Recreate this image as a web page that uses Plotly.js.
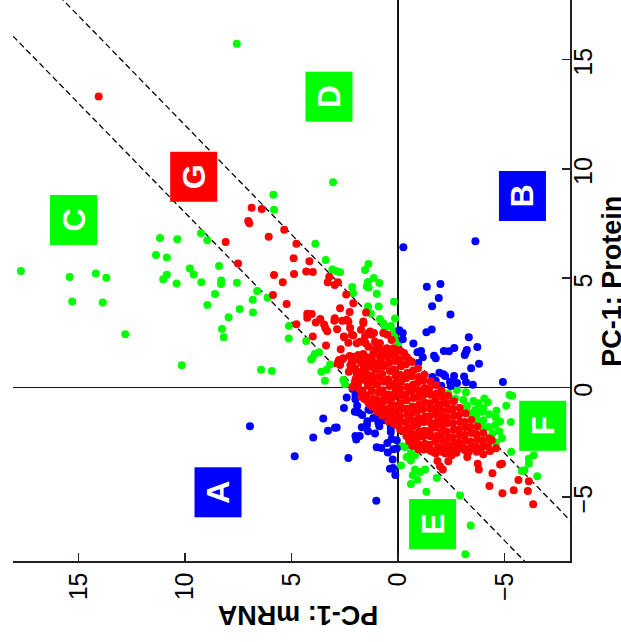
<!DOCTYPE html>
<html><head><meta charset="utf-8">
<script src="https://cdn.plot.ly/plotly-3.0.1.min.js"></script>
<style>html,body{margin:0;padding:0;background:#fff;overflow:hidden}</style>
</head><body><div id="chart" style="width:621px;height:642px"></div>
<script>
const tickValues=[-5,0,5,10,15];
const xTitle="PC-1: mRNA", yTitle="PC-1: Protein";
const mrnaRange=[18.07,-8.07], proteinRange=[-7.93,17.72];
const bandOffset=2;
const bandMrna=[18.07,-8.07];
const bandUpper=bandMrna.map(m=>m+bandOffset);
const bandLower=bandMrna.map(m=>m-bandOffset);
const regionLabels=["A","B","C","D","E","F","G"];
const regionColors=["#0000ff","#0000ff","#00ff00","#00ff00","#00ff00","#00ff00","#ff0000"];
const regionMrna=[8.43,-5.84,15.23,3.26,-1.62,-6.78,9.60];
const regionProtein=[-4.77,8.78,7.64,13.28,-6.26,-1.77,9.66];

const greenPoints=[[17.70,5.33],[15.41,5.06],[14.18,5.21],[13.69,5.02],[15.29,3.94],[13.86,3.89],[12.80,2.44],[10.15,1.02],[11.17,6.84],[10.36,6.78],[9.25,7.06],[8.95,6.73],[11.36,6.06],[10.85,5.95],[9.77,5.44],[9.59,5.17],[10.85,5.16],[11.02,4.95],[10.39,4.76],[9.23,4.81],[8.30,4.89],[8.31,4.73],[7.56,4.79],[8.40,5.56],[8.59,4.28],[8.95,3.78],[7.43,3.59],[7.95,3.22],[8.26,2.68],[8.18,2.30],
[6.82,4.01],[6.81,3.43],[6.61,4.41],[6.12,4.11],[5.12,2.81],[5.13,2.24],[4.31,2.13],[3.71,1.61],[3.91,1.54],[4.02,1.34],[4.08,1.28],[6.43,0.82],[5.92,0.76],[3.19,1.06],[3.35,0.82],[3.60,0.72],[3.43,0.31],[2.57,0.34],[2.49,0.15],
[7.57,15.72],[3.05,9.39],[5.85,8.82],[5.82,8.13],[3.88,6.57],[3.39,5.83],[3.08,5.40],[2.91,5.33],[2.72,5.27],[2.15,4.60],[2.11,4.32],[1.39,5.65],[1.55,5.38],[1.14,5.01],[0.88,4.78],[1.41,4.83],[1.47,4.62],[1.38,4.58],[1.00,4.29],[0.19,3.92],[0.91,3.71],[1.41,3.71],[1.28,3.39],[0.85,3.13],[0.14,3.16],[0.69,2.94],[0.61,2.74],[0.34,2.82],[0.19,2.59],[0.17,2.33],[-0.01,2.05],
[-2.36,-0.27],[-2.76,-0.11],[-3.19,-0.21],[-2.68,-0.50],[-3.07,-0.57],[-3.54,-0.61],[-3.77,-0.72],[-4.05,-0.50],[-4.21,-0.67],[-5.23,-0.34],[-5.35,-0.38],[-5.08,-0.83],[-4.00,-0.95],[-3.93,-1.11],[-4.62,-1.06],[-4.27,-1.22],[-3.23,-0.83],[-3.62,-1.03],[-3.38,-1.18],[-3.66,-1.29],[-4.00,-1.49],[-4.59,-1.37],[-4.79,-1.55],[-5.29,-1.58],[-4.24,-1.80],[-4.55,-1.72],[-3.77,-1.57],[-3.93,-1.80],[-4.76,-2.01],[-4.43,-2.10],[-4.88,-2.32],[-4.59,-2.51],[-5.31,-2.94],[-6.37,-3.10],[-6.14,-3.25],[-6.14,-3.48],[-5.93,-3.78],[-5.81,-3.82],[-6.53,-4.05],[-2.91,-4.93],
[-0.17,-2.68],[-0.33,-2.72],[-0.14,-3.56],[-0.41,-3.17],[-0.60,-3.02],[-0.80,-3.10],[-0.60,-3.33],[-0.80,-3.75],[-1.03,-3.86],[-0.69,-4.01],[-0.91,-4.21],[-1.27,-3.75],[-0.60,-4.41],[-1.82,-4.14],[-1.33,-4.76],[-3.41,-6.31],[-3.16,-7.62]];

const bluePoints=[[-1.35,4.61],[-1.99,4.73],[-1.91,4.09],[-1.60,3.72],[-2.46,3.34],[-1.58,2.65],[-1.33,2.53],[-3.32,2.30],[-3.72,1.86],[-3.23,1.72],[-3.18,1.60],[-3.13,1.49],[-2.64,1.81],[-2.39,1.66],[-2.15,1.67],[-1.69,1.46],[-1.77,1.34],[-1.16,1.39],[-1.08,1.67],[-0.91,1.61],[-0.95,1.12],[-0.72,2.01],[-0.22,2.21],[-0.22,2.50],[-0.06,2.62],[-3.80,1.09],[-3.43,0.88],[-3.10,0.51],[-2.63,0.53],[-2.13,0.61],[-1.94,0.68],[-2.21,0.53],[-1.61,0.48],[-1.77,0.31],[-2.44,0.27],[-2.77,0.21],[-3.19,0.24],[-3.51,0.13],[-2.47,0.07],[-2.03,0.08],[-0.25,6.41],[-3.63,6.69],[-4.92,0.25],
[2.13,-0.07],[2.00,-0.34],[2.00,-0.53],[2.41,-0.45],[2.54,-0.94],[1.92,-0.83],[2.03,-1.11],[1.85,-1.14],[1.68,-1.25],[1.39,-1.00],[1.31,-1.03],[1.00,-1.29],[1.16,-1.39],[1.44,-1.54],[1.46,-1.71],[1.70,-1.81],[0.92,-1.61],[0.88,-1.77],[0.64,-1.49],[0.38,-1.61],[0.34,-1.84],[0.34,-2.03],[1.41,-2.00],[1.08,-2.10],[3.51,-1.41],[3.29,-1.98],[2.96,-1.84],[2.88,-1.83],[3.98,-2.28],[4.85,-3.14],[2.33,-3.22],[2.00,-2.21],[1.80,-2.22],[1.96,-2.38],[1.00,-2.73],[0.78,-2.76],[0.50,-2.53],[0.30,-2.35],[0.06,-2.41],[0.48,-2.97],[0.22,-2.82],[0.06,-2.79],[0.25,-3.29],[0.38,-3.71],[0.23,-3.68],[0.13,-4.00],[1.02,-5.17],[6.95,-1.77]];

const redPoints=[[14.05,13.31],[6.87,8.22],[6.40,8.16],[7.03,7.61],[6.98,7.51],[5.34,7.22],[6.07,6.89],[4.77,6.57],[8.09,6.66],[4.90,5.91],[4.16,5.77],[7.51,5.67],[4.31,5.31],[4.00,5.28],[4.88,5.19],[5.82,5.15],[5.41,4.81],[3.23,5.07],[3.30,4.81],[2.82,4.81],[2.97,4.69],[2.43,4.26],[5.87,4.23],[5.23,3.82],[4.77,2.90],[4.00,2.33],[3.38,1.92],
[4.26,3.37],[4.05,3.36],[4.26,3.19],[3.65,3.13],[3.86,2.97],[3.47,2.88],[3.41,2.72],[3.32,2.58],[2.97,3.17],[2.99,3.05],[2.86,2.67],[2.62,3.06],[2.72,3.63],[2.27,3.45],[2.10,3.86],[2.33,3.02],[1.63,2.94],[1.74,2.64],[2.25,2.72],[2.17,2.41],[2.52,2.30],[2.33,2.05],[1.94,2.03],[1.78,2.10],[1.52,2.03],[1.39,2.49],[1.50,3.43],[2.69,1.75],[2.27,1.44],[1.63,1.54],[1.94,1.37],[2.57,1.34],[2.77,1.26],[2.83,1.11],[2.10,1.22],[1.82,1.26],[1.47,1.39],[2.02,0.83],[1.94,0.65],[1.99,0.39],[1.60,0.95],[1.70,0.72],[1.52,0.34],[1.39,0.19],[1.66,-0.19],
[2.80,1.18],[2.60,1.29],[2.72,1.03],[2.54,2.33],[2.41,3.10],[2.10,2.38],[1.63,3.02],[1.55,2.33],[1.31,2.56],[1.13,2.49],[1.23,2.41],[0.69,2.49],[0.50,2.41],[0.30,2.18],[0.53,1.80],[0.22,1.80],[0.85,2.03],[1.08,2.10],[0.85,1.72],[1.16,1.57],[1.39,1.87],[2.17,1.18],[2.10,1.41],[1.86,1.49],[2.02,0.88],[1.94,0.72],[1.82,0.53],[1.78,0.42],[2.02,0.27],[1.55,0.34],[1.39,0.42],[1.63,0.80],[1.31,0.95],[1.00,1.11],[0.77,1.18],[1.23,1.34],[0.85,1.41],[0.46,1.41],[0.14,1.49],
[1.05,1.78],[0.62,1.62],[0.38,1.66],[0.05,1.72],[-0.28,1.58],[1.72,1.12],[1.38,1.12],[1.08,0.82],[2.24,1.02],[2.31,0.72],[1.87,0.18],[2.14,0.02],[1.82,-0.08],[1.58,-0.52],[1.72,-0.42],[1.33,-0.78],[1.02,-0.95],[0.62,-1.18],[0.28,-1.34],[-0.02,-1.75],[-0.28,-1.98],[-0.52,-2.44],[-1.08,-2.72],[-1.63,-2.94],[-2.22,-3.02],[-2.74,-2.98],[-3.32,-2.93],[-3.82,-2.88],
[-2.36,-3.37],[-2.10,-3.75],[-2.52,-3.10],[-3.25,-3.17],[-3.74,-3.48],[-3.79,-3.75],[-4.79,-3.52],[-4.88,-3.48],[-4.43,-3.92],[-4.29,-4.50],[-5.65,-4.23],[-6.14,-4.28],[-5.43,-4.69],[-4.90,-4.83],[-6.09,-4.73],[-6.34,-5.33],[-4.60,-2.78],[-4.40,-2.41],[-1.85,-3.36],[-1.97,-3.60],[-3.69,-2.94],[-4.00,-3.05],[-4.32,-2.90],[-3.54,-2.72],[-3.15,-2.87],[-2.91,-2.72],[-2.60,-2.64],
[1.47,0.62],[1.42,0.08],[1.48,-0.36],[1.40,-0.68],[1.18,1.02],[1.23,0.53],[1.15,0.22],[1.24,-0.17],[1.16,-0.52],[1.20,-0.88],[0.97,0.87],[0.91,0.48],[0.99,0.13],[0.93,-0.22],[0.98,-0.57],[0.90,-0.83],[0.96,-1.12],[0.72,1.46],[0.66,0.97],[0.74,0.62],[0.68,0.28],[0.73,-0.12],[0.65,-0.42],[0.71,-0.68],[0.67,-1.03],[0.74,-1.28],[0.42,1.12],[0.38,0.76],[0.46,0.38],[0.40,0.07],[0.44,-0.32],[0.37,-0.63],[0.45,-0.97],[0.41,-1.28],[0.46,-1.53],[0.13,1.22],[0.18,0.83],[0.11,0.52],[0.16,0.18],[0.12,-0.17],[0.19,-0.43],[0.14,-0.82],[0.17,-1.08],[0.11,-1.42],[0.18,-1.68],
[-0.12,1.67],[-0.08,1.28],[-0.15,0.97],[-0.10,0.58],[-0.14,0.27],[-0.09,-0.07],[-0.13,-0.38],[-0.11,-0.72],[-0.16,-0.98],[-0.09,-1.32],[-0.14,-1.58],[-0.10,-1.92],[-0.42,1.38],[-0.37,1.07],[-0.44,0.68],[-0.39,0.42],[-0.43,0.03],[-0.36,-0.32],[-0.41,-0.58],[-0.38,-0.97],[-0.44,-1.23],[-0.37,-1.57],[-0.42,-1.88],[-0.39,-2.22],[-0.66,1.17],[-0.71,0.78],[-0.65,0.52],[-0.70,0.13],[-0.64,-0.17],[-0.72,-0.48],[-0.67,-0.87],[-0.71,-1.13],[-0.64,-1.47],[-0.69,-1.78],[-0.66,-2.12],[-0.72,-2.38],[-0.67,-2.67],
[-0.93,0.87],[-0.98,0.48],[-0.92,0.22],[-0.97,-0.12],[-0.94,-0.43],[-0.99,-0.77],[-0.91,-1.08],[-0.96,-1.42],[-0.93,-1.68],[-0.98,-2.02],[-0.92,-2.28],[-0.97,-2.62],[-0.95,-2.82],[-1.24,0.58],[-1.19,0.32],[-1.25,-0.02],[-1.20,-0.33],[-1.23,-0.67],[-1.18,-0.98],[-1.26,-1.32],[-1.21,-1.58],[-1.24,-1.97],[-1.19,-2.23],[-1.25,-2.57],[-1.20,-2.83],
[-1.52,0.28],[-1.46,-0.07],[-1.53,-0.33],[-1.48,-0.72],[-1.51,-0.98],[-1.47,-1.32],[-1.54,-1.63],[-1.49,-1.97],[-1.52,-2.23],[-1.46,-2.62],[-1.50,-2.88],[-1.76,0.12],[-1.81,-0.27],[-1.75,-0.58],[-1.80,-0.92],[-1.77,-1.23],[-1.82,-1.57],[-1.76,-1.83],[-1.79,-2.22],[-1.74,-2.48],[-1.81,-2.82],[-1.77,-3.02],
[-2.03,-0.12],[-2.08,-0.43],[-2.02,-0.77],[-2.07,-1.08],[-2.04,-1.42],[-2.09,-1.73],[-2.03,-2.07],[-2.06,-2.38],[-2.02,-2.72],[-2.07,-2.93],[-2.34,-0.38],[-2.29,-0.72],[-2.35,-1.03],[-2.30,-1.37],[-2.33,-1.63],[-2.28,-2.02],[-2.36,-2.28],[-2.31,-2.62],[-2.34,-2.88],
[-2.62,-0.63],[-2.57,-0.97],[-2.63,-1.28],[-2.58,-1.62],[-2.61,-1.93],[-2.56,-2.27],[-2.64,-2.53],[-2.59,-2.87],[-2.90,-0.93],[-2.85,-1.27],[-2.91,-1.58],[-2.86,-1.92],[-2.89,-2.18],[-2.84,-2.52],[-2.92,-2.78],[-3.17,-1.18],[-3.12,-1.57],[-3.18,-1.83],[-3.13,-2.17],[-3.16,-2.43],[-3.11,-2.77],[-3.44,-1.48],[-3.39,-1.82],[-3.45,-2.08],[-3.40,-2.47],[-3.43,-2.73],[-3.72,-1.78],[-3.67,-2.12],[-3.73,-2.38],[-3.68,-2.72],[-4.00,-2.08],[-3.95,-2.42],[-4.01,-2.68],[-4.27,-2.33],[-4.22,-2.67]];

function trace(points,color){return{type:"scatter",mode:"markers",x:points.map(p=>p[0]),y:points.map(p=>p[1]),marker:{color:color,size:8,line:{width:0}},hoverinfo:"skip"};}
function band(y){return{type:"scatter",mode:"lines",x:bandMrna,y:y,line:{color:"#000",width:1.3,dash:"6px,3.5px"},hoverinfo:"skip"};}

const axisBase={tickmode:"array",tickvals:tickValues,ticks:"inside",ticklen:8,tickwidth:1.5,tickcolor:"#222",showline:true,linecolor:"#222",linewidth:1.5,showgrid:false,zeroline:true,zerolinecolor:"#111",zerolinewidth:1.8,tickangle:-90,tickfont:{family:"Liberation Sans, Arial, sans-serif",size:25,color:"#000"},autorange:false,fixedrange:true};

const letters=regionLabels.map((t,i)=>({text:"<b>"+t+"</b>",x:regionMrna[i],y:regionProtein[i],xref:"x",yref:"y",showarrow:false,textangle:-90,width:50,height:47,align:"center",valign:"middle",bgcolor:regionColors[i],borderpad:0,borderwidth:0,font:{family:"Liberation Sans, Arial, sans-serif",size:32,color:"#fff"},xanchor:"center",yanchor:"middle"}));
const titles=[
 {text:"<b>"+xTitle+"</b>",xref:"paper",yref:"paper",x:0.512,y:-0.096,showarrow:false,textangle:180,xanchor:"center",yanchor:"middle",font:{family:"Liberation Sans, Arial, sans-serif",size:27,color:"#000"}},
 {text:"<b>"+yTitle+"</b>",xref:"paper",yref:"paper",x:1.075,y:0.499,showarrow:false,textangle:-90,xanchor:"center",yanchor:"middle",font:{family:"Liberation Sans, Arial, sans-serif",size:27,color:"#000"}}
];

Plotly.newPlot("chart",[band(bandUpper),band(bandLower),trace(greenPoints,"#00ff00"),trace(bluePoints,"#0000ff"),trace(redPoints,"#ff0000")],{
 width:621,height:642,showlegend:false,paper_bgcolor:"#fff",plot_bgcolor:"#fff",
 margin:{l:13,r:51,t:0,b:81,pad:0},
 xaxis:Object.assign({},axisBase,{range:mrnaRange,side:"bottom"}),
 yaxis:Object.assign({},axisBase,{range:proteinRange,side:"right",ticklabelstandoff:-10,ticklabelshift:6}),
 annotations:letters.concat(titles)
},{staticPlot:true,displayModeBar:false});
</script></body></html>
